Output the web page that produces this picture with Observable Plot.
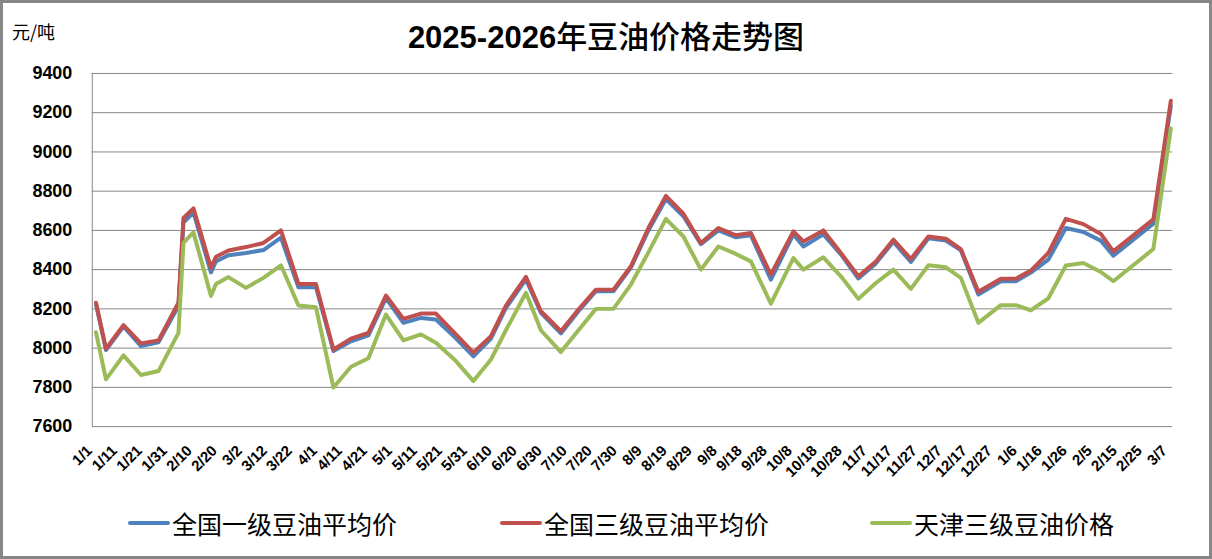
<!DOCTYPE html>
<html>
<head>
<meta charset="utf-8">
<script src="https://cdn.jsdelivr.net/npm/d3@7"></script>
<script src="https://cdn.jsdelivr.net/npm/@observablehq/plot@0.6"></script>
<style>
  html, body { margin: 0; padding: 0; background: #fff; }
  #wrap { position: relative; width: 1206px; height: 553px; border: 3px solid #878787; background: #fff; overflow: hidden; }
  #title { position: absolute; left: 0; width: 1206px; top: 13px; text-align: center; font-size: 31px; line-height: 38px; color: #000; }
  #title .num { font-family: 'Liberation Sans', Arial, sans-serif; font-weight: bold; }
  #title .cjk { font-family: 'Noto Sans CJK SC', sans-serif; font-weight: 500; }
  #unit { position: absolute; left: 9px; top: 15px; font-family: 'Noto Sans CJK SC', sans-serif; font-size: 18px; color: #000; }
  #chart { position: absolute; left: -3px; top: 57px; }
  .leg { position: absolute; top: 504px; font-family: 'Noto Sans CJK SC', sans-serif; font-size: 25px; line-height: 32px; color: #000; display: flex; align-items: center; }
  .leg .sw { display: inline-block; width: 42px; height: 4px; margin-right: 2px; border-radius: 2px; }
</style>
</head>
<body>
<div id="wrap">
  <div id="unit">元/吨</div>
  <div id="title"><span class="num">2025-2026</span><span class="cjk">年豆油价格走势图</span></div>
  <div id="chart"></div>
  <div id="legend"></div>
</div>
<script>
const seriesNames = ["全国一级豆油平均价", "全国三级豆油平均价", "天津三级豆油价格"];
const seriesColors = ["#4F81BD", "#C0504D", "#9BBB59"];

const dates = [
  "2025-01-01","2025-01-05","2025-01-12","2025-01-19","2025-01-26","2025-02-03","2025-02-05","2025-02-09",
  "2025-02-16","2025-02-18","2025-02-23","2025-03-02","2025-03-09","2025-03-16","2025-03-23","2025-03-30",
  "2025-04-06","2025-04-13","2025-04-20","2025-04-27","2025-05-04","2025-05-11","2025-05-17","2025-05-25",
  "2025-06-01","2025-06-08","2025-06-14","2025-06-22","2025-06-28","2025-07-06","2025-07-13","2025-07-20",
  "2025-07-27","2025-08-03","2025-08-10","2025-08-17","2025-08-24","2025-08-31","2025-09-07","2025-09-14",
  "2025-09-20","2025-09-28","2025-10-07","2025-10-11","2025-10-19","2025-10-26","2025-11-02","2025-11-09",
  "2025-11-16","2025-11-23","2025-11-30","2025-12-07","2025-12-13","2025-12-20","2025-12-29","2026-01-04",
  "2026-01-10","2026-01-17","2026-01-24","2026-01-31","2026-02-07","2026-02-12","2026-02-28","2026-03-07"
];

const firstGrade = [
  8225,7990,8110,8010,8030,8215,8640,8691,
  8386,8442,8473,8485,8500,8563,8310,8312,
  7985,8035,8065,8255,8129,8154,8146,8050,
  7958,8048,8205,8350,8180,8075,8188,8290,
  8290,8410,8600,8760,8672,8530,8600,8565,
  8575,8349,8580,8518,8580,8478,8355,8432,
  8542,8439,8560,8548,8498,8273,8341,8341,
  8385,8451,8612,8592,8548,8471,8634,9235
];

const thirdGrade = [
  8231,7997,8117,8024,8039,8231,8663,8712,
  8409,8466,8498,8515,8536,8600,8327,8327,
  7993,8048,8078,8268,8149,8176,8176,8070,
  7977,8061,8217,8363,8188,8086,8197,8298,
  8298,8417,8612,8776,8685,8536,8612,8575,
  8587,8375,8595,8544,8600,8485,8366,8442,
  8553,8454,8569,8558,8505,8287,8354,8354,
  8395,8485,8659,8632,8582,8493,8656,9261
];

const tianjin = [
  8081,7841,7963,7863,7883,8078,8536,8590,
  8266,8327,8362,8307,8358,8422,8217,8208,
  7799,7905,7948,8171,8039,8070,8027,7934,
  7832,7942,8091,8282,8091,7980,8091,8200,
  8200,8324,8488,8659,8569,8400,8518,8480,
  8442,8227,8459,8400,8463,8366,8251,8332,
  8400,8302,8422,8412,8358,8129,8219,8219,
  8193,8254,8421,8434,8388,8341,8505,9120
];

const tickDates = [
  "2025-01-01","2025-01-11","2025-01-21","2025-01-31","2025-02-10","2025-02-20","2025-03-02","2025-03-12",
  "2025-03-22","2025-04-01","2025-04-11","2025-04-21","2025-05-01","2025-05-11","2025-05-21","2025-05-31",
  "2025-06-10","2025-06-20","2025-06-30","2025-07-10","2025-07-20","2025-07-30","2025-08-09","2025-08-19",
  "2025-08-29","2025-09-08","2025-09-18","2025-09-28","2025-10-08","2025-10-18","2025-10-28","2025-11-07",
  "2025-11-17","2025-11-27","2025-12-07","2025-12-17","2025-12-27","2026-01-06","2026-01-16","2026-01-26",
  "2026-02-05","2026-02-15","2026-02-25","2026-03-07"
];

const yTicks = [7600, 7800, 8000, 8200, 8400, 8600, 8800, 9000, 9200, 9400];

const parse = d3.utcParse("%Y-%m-%d");
const fmt = d3.utcFormat("%-m/%-d");
const seriesValues = [firstGrade, thirdGrade, tianjin];
const rows = [];
seriesValues.forEach((vals, s) => {
  dates.forEach((d, i) => rows.push({date: parse(d), value: vals[i], series: seriesNames[s]}));
});
const ticks = tickDates.map(parse);

const DAY = 864e5;
const x0 = new Date(parse(dates[0]).getTime() - 1.48 * DAY);
const x1 = new Date(parse(dates[dates.length - 1]).getTime() + 0.7 * DAY);

const chart = Plot.plot({
  width: 1212,
  height: 440,
  marginLeft: 92,
  marginRight: 37,
  marginTop: 13,
  marginBottom: 73,
  style: {fontFamily: "'Liberation Sans', Arial, sans-serif", color: "#000", background: "transparent", overflow: "visible"},
  x: {type: "utc", domain: [x0, x1], axis: null},
  y: {domain: [7600, 9400], axis: null, label: null},
  marks: [
    Plot.gridY(yTicks, {stroke: "#878787", strokeOpacity: 1, strokeWidth: 1}),
    Plot.ruleX([x0], {stroke: "#878787", strokeWidth: 1}),
    Plot.axisY(yTicks, {tickSize: 0, tickPadding: 20, fontSize: 18, fontWeight: "bold", label: null, tickFormat: d => String(d)}),
    Plot.text(ticks, {x: d => d, text: d => fmt(d), frameAnchor: "bottom", rotate: -45, textAnchor: "end",
      dx: -3, dy: 25, fontSize: 15, fontWeight: "bold", fill: "#000"}),
    Plot.lineY(rows.filter(r => r.series === seriesNames[0]), {x: "date", y: "value", stroke: seriesColors[0], strokeWidth: 4, strokeLinejoin: "round"}),
    Plot.lineY(rows.filter(r => r.series === seriesNames[1]), {x: "date", y: "value", stroke: seriesColors[1], strokeWidth: 4, strokeLinejoin: "round"}),
    Plot.lineY(rows.filter(r => r.series === seriesNames[2]), {x: "date", y: "value", stroke: seriesColors[2], strokeWidth: 4, strokeLinejoin: "round"})
  ]
});
document.getElementById("chart").appendChild(chart);

// legend
const legendLeft = [125, 497, 867];
const legend = document.getElementById("legend");
seriesNames.forEach((n, i) => {
  const el = document.createElement("div");
  el.className = "leg";
  el.style.left = legendLeft[i] + "px";
  el.innerHTML = `<span class="sw" style="background:${seriesColors[i]}"></span><span>${n}</span>`;
  legend.appendChild(el);
});
</script>
</body>
</html>
